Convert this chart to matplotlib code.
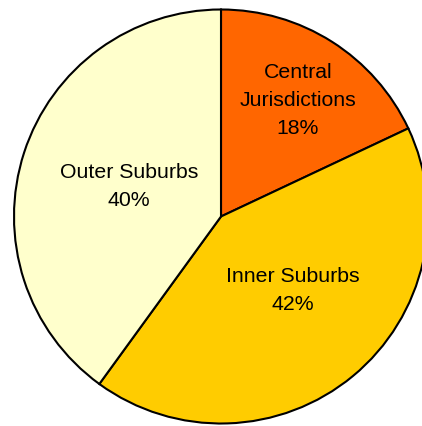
import matplotlib
matplotlib.use("Agg")
import matplotlib.pyplot as plt

labels = ["Central\nJurisdictions", "Inner Suburbs", "Outer Suburbs"]
shares = [18, 42, 40]
colors = ["#FF6600", "#FFCC00", "#FFFFCC"]
# label centres in pixel coords (x from left, y from top)
label_x = [298, 293, 129]
label_y = [101, 291, 186]

W, H = 422, 426
fig = plt.figure(figsize=(W / 100, H / 100), dpi=100)
ax = fig.add_axes([0, 0, 1, 1])

ax.pie(shares, colors=colors, startangle=90, counterclock=False,
       center=(221, H - 216.5), radius=207, frame=True,
       wedgeprops=dict(edgecolor="black", linewidth=1.5))

for lab, s, x, y in zip(labels, shares, label_x, label_y):
    ax.text(x, H - y, f"{lab}\n{s}%", ha="center", va="center",
            fontsize=15.3, family="Liberation Sans", linespacing=1.6)

ax.set_xlim(0, W)
ax.set_ylim(0, H)
ax.set_aspect("equal")
ax.axis("off")

fig.savefig("out.png", dpi=100, facecolor="white")
